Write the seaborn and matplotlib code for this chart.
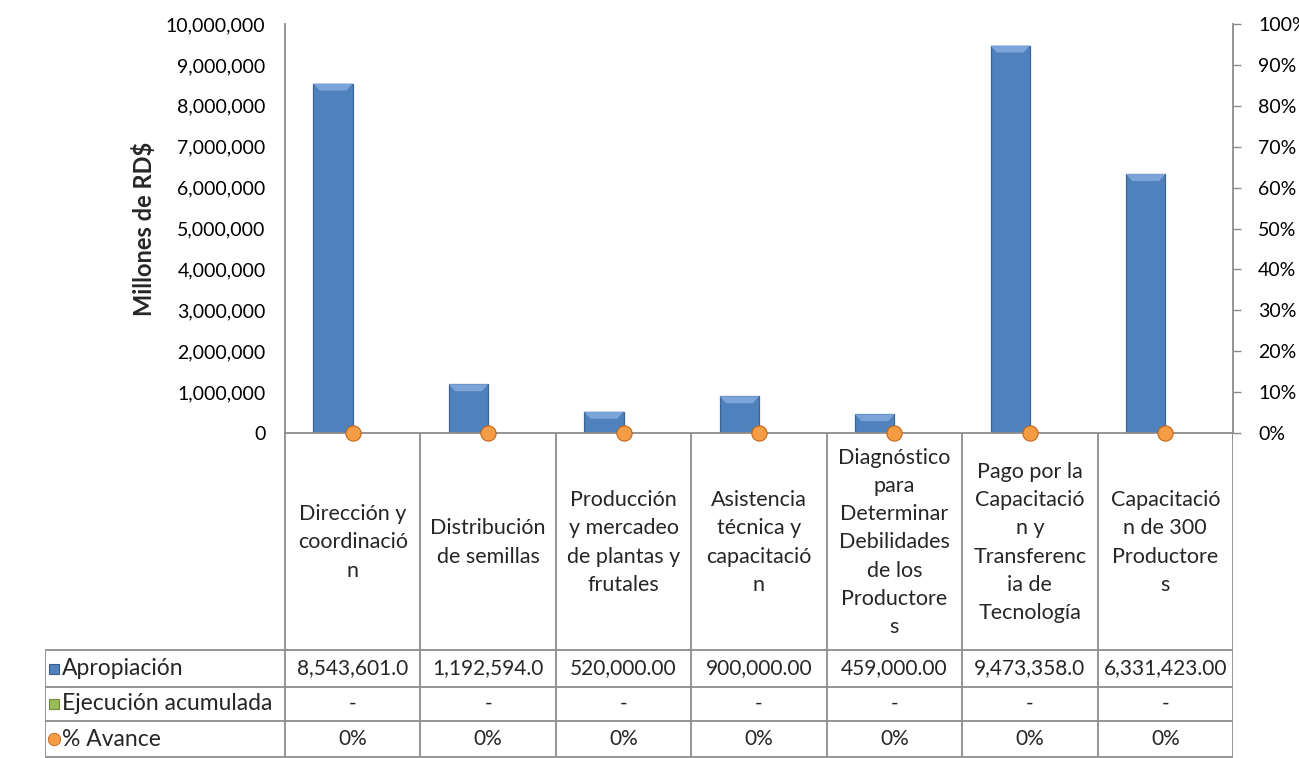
import matplotlib
matplotlib.use("Agg")
import matplotlib.pyplot as plt
import seaborn as sns
import pandas as pd
import numpy as np
from matplotlib.ticker import FuncFormatter, PercentFormatter
from matplotlib.patches import Rectangle, Polygon

# data
categories = [
    "Dirección y\ncoordinació\nn",
    "Distribución\nde semillas",
    "Producción\ny mercadeo\nde plantas y\nfrutales",
    "Asistencia\ntécnica y\ncapacitació\nn",
    "Diagnóstico\npara\nDeterminar\nDebilidades\nde los\nProductore\ns",
    "Pago por la\nCapacitació\nn y\nTransferenc\nia de\nTecnología",
    "Capacitació\nn de 300\nProductore\ns",
]
apropiacion = [8543601.0, 1192594.0, 520000.0, 900000.0, 459000.0, 9473358.0, 6331423.0]
ejecucion = [0, 0, 0, 0, 0, 0, 0]
avance = [0, 0, 0, 0, 0, 0, 0]
apropiacion_txt = ["8,543,601.0", "1,192,594.0", "520,000.00", "900,000.00",
                   "459,000.00", "9,473,358.0", "6,331,423.00"]
ejecucion_txt = ["-"] * 7
avance_txt = ["0%"] * 7
series = ["Apropiación", "Ejecución acumulada", "% Avance"]

BLUE = "#4F81BD"
GREEN = "#9BBB59"
ORANGE = "#F59D45"
GRID = "#8C8C8C"

sns.set_theme(style="white")
plt.rcParams["font.family"] = ["Lato", "DejaVu Sans"]

W, H = 1299, 758
fig = plt.figure(figsize=(W / 100, H / 100), dpi=100)

# plot area in pixels
x0, x1, ytop, ybase, ybot, xleft = 285, 1233, 24, 433, 757, 45
ax = fig.add_axes([x0 / W, 1 - ybase / H, (x1 - x0) / W, (ybase - ytop) / H])

df = pd.DataFrame({
    "cat": list(range(len(categories))) * 2,
    "serie": [series[0]] * len(categories) + [series[1]] * len(categories),
    "valor": apropiacion + ejecucion,
})
sns.barplot(data=df, x="cat", y="valor", hue="serie", palette=[BLUE, GREEN],
            width=0.58, saturation=1, ax=ax, legend=False,
            edgecolor="#3B6597", linewidth=0.9)
ax.set_xlim(-0.5, len(categories) - 0.5)
ax.set_ylim(0, 10_000_000)

# light bevel on top of each bar, Excel style
px_y = 10_000_000 / (ybase - ytop)
for p in ax.patches:
    h = p.get_height()
    if h <= 0:
        continue
    bx, bw = p.get_x(), p.get_width()
    d = min(7 * px_y, h * 0.45)
    dx = bw * 0.16
    ax.add_patch(Polygon([(bx, h), (bx + bw, h), (bx + bw - dx, h - d), (bx + dx, h - d)],
                         closed=True, facecolor="#7DA4D8", edgecolor="none", zorder=3))

ax.set_yticks(np.arange(0, 10_000_001, 1_000_000))
ax.yaxis.set_major_formatter(FuncFormatter(lambda v, p: f"{int(v):,}"))
ax.tick_params(axis="y", length=0, pad=14, labelsize=14, colors="black")
ax.set_xticks([])
ax.set_xlabel("")
ax.set_ylabel("Millones de RD$", fontsize=17, fontweight="bold", labelpad=7)
for s in ["top", "right"]:
    ax.spines[s].set_visible(False)
for s in ["left", "bottom"]:
    ax.spines[s].set_color(GRID)
    ax.spines[s].set_linewidth(1.3)

ax2 = ax.twinx()
sns.scatterplot(x=list(range(len(categories))), y=avance, ax=ax2, s=120,
                color=ORANGE, edgecolor="#C0651A", linewidth=0.8, zorder=5,
                clip_on=False)
ax2.set_ylim(0, 1)
ax2.set_yticks(np.arange(0, 1.01, 0.1))
ax2.yaxis.set_major_formatter(PercentFormatter(1.0, decimals=0))
ax2.tick_params(axis="y", length=6, width=1, color=GRID, pad=12,
                labelsize=14, labelcolor="black")
for s in ["top", "left", "bottom"]:
    ax2.spines[s].set_visible(False)
ax2.spines["right"].set_color(GRID)
ax2.spines["right"].set_linewidth(1.3)

# data table under the chart
unit = (x1 - x0) / len(categories)
tab = fig.add_axes([xleft / W, 0, (x1 - xleft) / W, (ybot - ybase) / H + 1 / H])
tab.set_xlim(-0.5 - (x0 - xleft) / unit, len(categories) - 0.5)
tab.set_ylim(ybot + 1, ybase)
tab.axis("off")
rows = [650, 687, 721, ybot]
lk = dict(color=GRID, lw=1.3, solid_capstyle="butt")
for i in range(len(categories) + 1):
    tab.plot([i - 0.5, i - 0.5], [ybase, ybot], **lk)
for r in rows:
    tab.plot([tab.get_xlim()[0], len(categories) - 0.5], [r, r], **lk)
tab.plot([tab.get_xlim()[0]] * 2, [rows[0], ybot], **lk)

for i, c in enumerate(categories):
    tab.text(i, (ybase + rows[0]) / 2 + 1, c, ha="center", va="center",
             fontsize=15.5, linespacing=1.52)
for vals, (ya, yb) in zip([apropiacion_txt, ejecucion_txt, avance_txt],
                          zip(rows[:-1], rows[1:])):
    for i, t in enumerate(vals):
        tab.text(i, (ya + yb) / 2, t, ha="center", va="center", fontsize=15)

lx = tab.get_xlim()[0]
sq = 10 / unit
for j, (name, col) in enumerate(zip(series, [BLUE, GREEN, ORANGE])):
    yc = (rows[j] + rows[j + 1]) / 2
    if j < 2:
        tab.add_patch(Rectangle((lx + 4 / unit, yc - 5), sq, 10, facecolor=col,
                                edgecolor="#385D8A" if j == 0 else "#6E8B3D", lw=0.8))
    else:
        tab.scatter([lx + 9 / unit], [yc], s=80, color=col, edgecolor="#C0651A",
                    linewidth=0.6, zorder=5)
    tab.text(lx + 17 / unit, yc, name, ha="left", va="center", fontsize=16.5)

fig.savefig("out.png", dpi=100)
